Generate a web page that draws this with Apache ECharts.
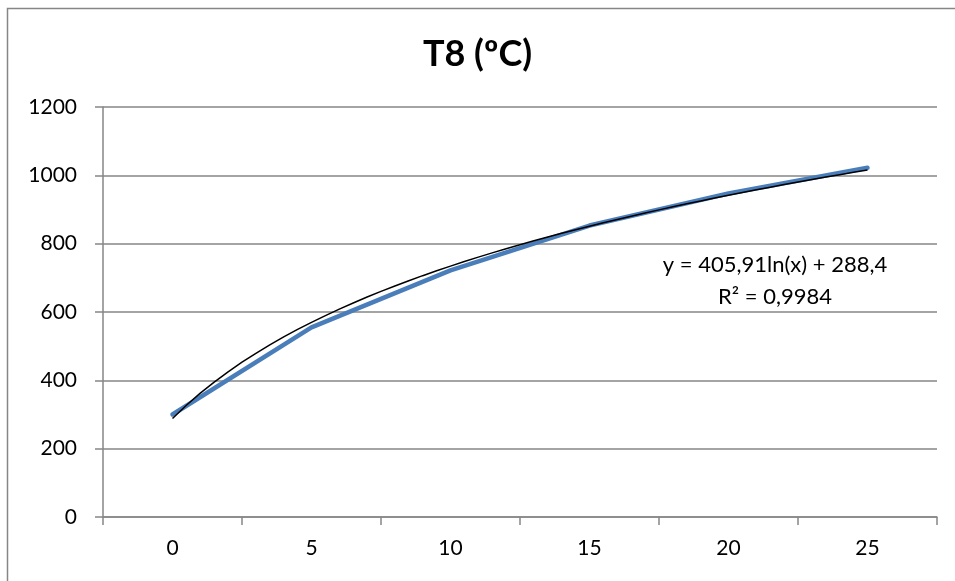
<!DOCTYPE html>
<html>
<head>
<meta charset="utf-8">
<script src="https://cdn.jsdelivr.net/npm/echarts@6/dist/echarts.min.js"></script>
<style>
  html, body { margin: 0; padding: 0; background: #fff; }
  #chart { width: 955px; height: 581px; }
</style>
</head>
<body>
<div id="chart"></div>
<script>
// categories (time) and measured temperature T8
const categories = ['0', '5', '10', '15', '20', '25'];
const t8Values = [300, 555, 722, 853, 947, 1022];
const yTicks = [0, 200, 400, 600, 800, 1000, 1200];

// logarithmic trendline as shown on the chart: y = a ln(x) + b, x = 1..6
const trendA = 405.91;
const trendB = 288.4;
const trendLabel = ['y = 405,91ln(x) + 288,4', 'R² = 0,9984'];

const chart = echarts.init(document.getElementById('chart'));

const trendData = [];
for (let i = 0; i <= 50; i++) {
    const x = 1 + i * 0.1;
    trendData.push([x, trendA * Math.log(x) + trendB]);
}

const gray = '#868686';
const font = 'Lato, "Open Sans", sans-serif';

chart.setOption({
    animation: false,
    title: {
        text: 'T8 (ºC)',
        left: 'center',
        top: 31,
        textStyle: {fontFamily: font, fontSize: 36, fontWeight: 'bold', color: '#000'}
    },
    grid: {left: 103, right: 18, top: 107, bottom: 64},
    xAxis: [
        {
            type: 'category',
            data: categories,
            boundaryGap: true,
            axisLine: {lineStyle: {color: gray, width: 1.5}},
            axisTick: {show: true, length: 8, interval: 0, lineStyle: {color: gray, width: 1.5}},
            axisLabel: {margin: 21, fontFamily: font, fontSize: 21, color: '#000'},
            splitLine: {show: false}
        },
        {
            type: 'value',
            min: 0.5,
            max: 6.5,
            show: false
        }
    ],
    yAxis: {
        type: 'value',
        min: yTicks[0],
        max: yTicks[yTicks.length - 1],
        interval: 200,
        axisLine: {show: true, lineStyle: {color: gray, width: 1.5}},
        axisTick: {show: true, length: 8, lineStyle: {color: gray, width: 1.5}},
        axisLabel: {
            margin: 26, fontFamily: font, fontSize: 21, color: '#000',
            formatter: v => String(v)
        },
        splitLine: {lineStyle: {color: gray, width: 1.5}}
    },
    series: [
        {
            name: 'T8',
            type: 'line',
            data: t8Values,
            symbol: 'none',
            lineStyle: {color: '#4a7ebb', width: 4.5, cap: 'round', join: 'round'},
            z: 2
        },
        {
            name: 'trend',
            type: 'line',
            xAxisIndex: 1,
            data: trendData,
            symbol: 'none',
            lineStyle: {color: '#000', width: 1.5},
            z: 3
        }
    ],
    graphic: [
        {
            type: 'rect',
            shape: {x: 7.5, y: 8.5, width: 1200, height: 1200},
            style: {fill: null, stroke: gray, lineWidth: 1.5},
            silent: true
        },
        {
            type: 'text',
            x: 775,
            y: 265,
            style: {text: trendLabel[0], fontFamily: font, fontSize: 22, fill: '#000', textAlign: 'center', textVerticalAlign: 'middle'}
        },
        {
            type: 'text',
            x: 775,
            y: 297,
            style: {text: trendLabel[1], fontFamily: font, fontSize: 22, fill: '#000', textAlign: 'center', textVerticalAlign: 'middle'}
        }
    ]
});
</script>
</body>
</html>
